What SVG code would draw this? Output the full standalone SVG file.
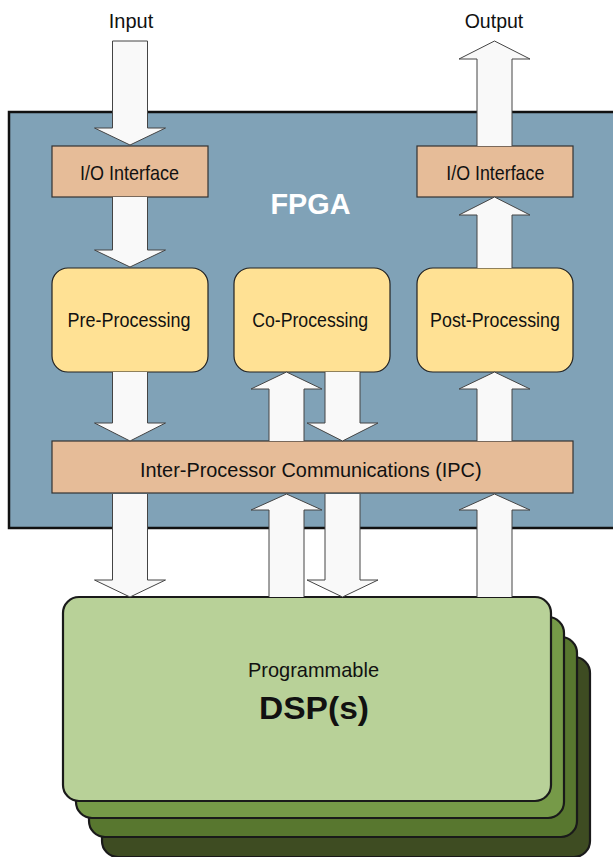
<svg xmlns="http://www.w3.org/2000/svg" width="613" height="857" viewBox="0 0 613 857">
<style>
.t{font-family:"Liberation Sans",Arial,sans-serif;font-size:21px;fill:#111;text-anchor:middle}
.b{font-family:"Liberation Sans",Arial,sans-serif;font-weight:bold;text-anchor:middle}
.or{fill:#e6bc98;stroke:#333;stroke-width:1.2}
.ye{fill:#ffe194;stroke:#222;stroke-width:1.2}
.ar{fill:#f9f9f9;stroke:#444;stroke-width:1;stroke-linejoin:miter}
.card{stroke:#1a1a1a;stroke-width:2.2}
</style>
<rect id="fpga" x="9" y="112" width="620" height="416" fill="#80a2b7" stroke="#111" stroke-width="2.5"/>
<text class="b" x="310.5" y="213.5" font-size="29" fill="#fff" textLength="80" lengthAdjust="spacingAndGlyphs">FPGA</text>
<text class="t" x="131" y="28" textLength="44.5" lengthAdjust="spacingAndGlyphs">Input</text>
<text class="t" x="494" y="28" textLength="58.6" lengthAdjust="spacingAndGlyphs">Output</text>
<g id="io-in"><rect class="or" x="52" y="146" width="156" height="51"/><text class="t" x="129.5" y="179.5" textLength="99" lengthAdjust="spacingAndGlyphs">I/O Interface</text></g>
<g id="io-out"><rect class="or" x="417" y="146" width="156" height="51"/><text class="t" x="495.3" y="179.5" textLength="98" lengthAdjust="spacingAndGlyphs">I/O Interface</text></g>
<g id="pre"><rect class="ye" x="52" y="268" width="156" height="104" rx="16"/><text class="t" x="129" y="327" textLength="122.8" lengthAdjust="spacingAndGlyphs">Pre-Processing</text></g>
<g id="co"><rect class="ye" x="234" y="268" width="156" height="104" rx="16"/><text class="t" x="310.2" y="327" textLength="116" lengthAdjust="spacingAndGlyphs">Co-Processing</text></g>
<g id="post"><rect class="ye" x="417" y="268" width="156" height="104" rx="16"/><text class="t" x="495" y="327" textLength="129.8" lengthAdjust="spacingAndGlyphs">Post-Processing</text></g>
<g id="ipc"><rect class="or" x="52" y="441" width="521" height="52"/><text class="t" x="310.8" y="476.5" textLength="341.6" lengthAdjust="spacingAndGlyphs">Inter-Processor Communications (IPC)</text></g>
<g id="dsp">
<rect class="card" x="102" y="657" width="488" height="200" rx="16" fill="#3e4c22"/>
<rect class="card" x="89" y="637" width="488" height="200" rx="16" fill="#58772f"/>
<rect class="card" x="76" y="617" width="488" height="201" rx="16" fill="#769a48"/>
<rect class="card" x="63" y="597" width="488" height="204" rx="16" fill="#b8d198"/>
<text class="t" x="313.5" y="677.3" font-size="23" textLength="131" lengthAdjust="spacingAndGlyphs">Programmable</text>
<text class="b" x="314" y="719.3" font-size="32" fill="#111" textLength="110" lengthAdjust="spacingAndGlyphs">DSP(s)</text>
</g>
<g id="connectors">
<path class="ar" d="M112.5 41 H147.5 V128 H165.5 L130 145 L94.5 128 H112.5 Z"/>
<path class="ar" d="M112.5 197 V250 H94.5 L130 267 L165.5 250 H147.5 V197"/>
<path class="ar" d="M112.5 372 V423 H94.5 L130 441 L165.5 423 H147.5 V372"/>
<path class="ar" d="M112.5 494 V580 H94.5 L130 597 L165.5 580 H147.5 V494"/>
<path class="ar" d="M325 372 V423 H307 L342.5 441 L378 423 H360 V372"/>
<path class="ar" d="M325 494 V580 H307 L342.5 597 L378 580 H360 V494"/>
<path class="ar" d="M269 597 V510 H251 L286.5 494 L322 510 H304 V597"/>
<path class="ar" d="M269 441 V389 H251 L286.5 372 L322 389 H304 V441"/>
<path class="ar" d="M477 597 V510 H459 L494.5 494 L530 510 H512 V597"/>
<path class="ar" d="M477 441 V389 H459 L494.5 372 L530 389 H512 V441"/>
<path class="ar" d="M477 268 V215 H459 L494.5 197 L530 215 H512 V268"/>
<path class="ar" d="M477 146 V59 H459 L494.5 41 L530 59 H512 V146"/>
</g>
</svg>
